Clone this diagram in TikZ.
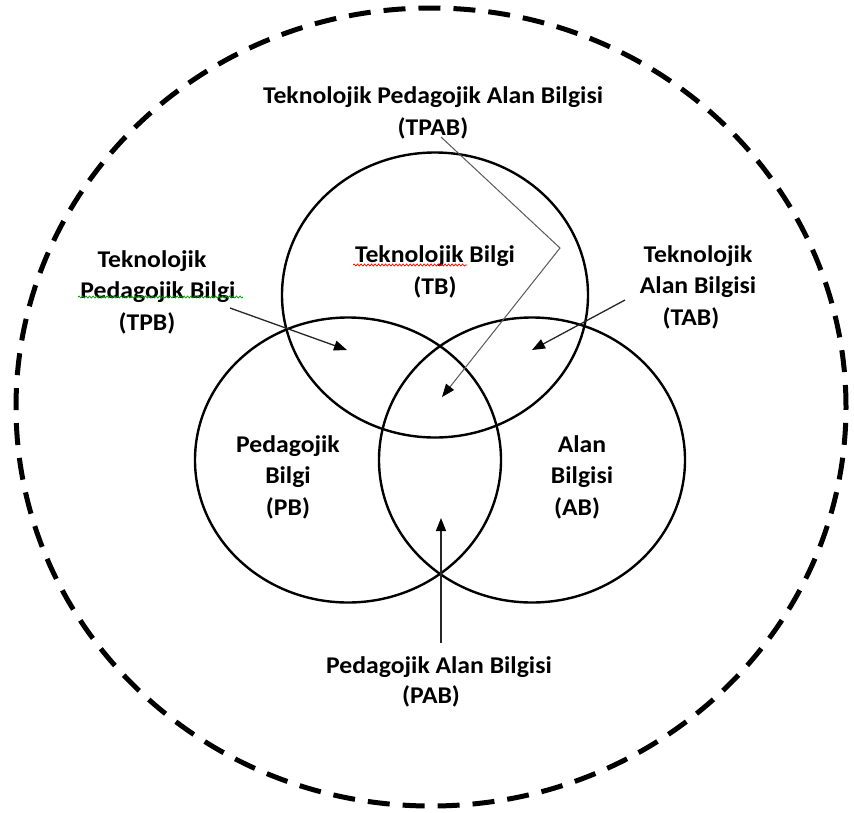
\documentclass[tikz,border=0pt]{standalone}
\usepackage{fontspec}
\setmainfont{Carlito}[FakeStretch=1.07]
\usetikzlibrary{arrows.meta,decorations.pathmorphing,shapes.geometric}
\begin{document}
\begin{tikzpicture}[x=1pt,y=-1pt,
  lbl/.style={font=\fontsize{24}{31.5}\selectfont\bfseries, align=center, inner sep=0pt, text=black},
  ring/.style={draw=black, line width=2.4pt, ellipse, minimum width=306pt, minimum height=285pt, inner sep=0pt},
  outerring/.style={draw=black, line width=5pt, dash pattern=on 22pt off 13pt, ellipse, minimum width=830pt, minimum height=798pt, inner sep=0pt},
  ptr/.style={line width=1.3pt, draw=black!85, -{Triangle[length=13pt,width=10pt,color=black]}},
  spell/.style={decorate, decoration={snake, amplitude=1pt, segment length=3.5pt}, line width=0.7pt}]
\useasboundingbox (0,0) rectangle (854,812);
\fill[white] (0,0) rectangle (854,812);
\node[outerring] (outer) at (431,407) {};
\node[ring] (tb) at (435,295) {};
\node[ring] (pb) at (348,460) {};
\node[ring] (ab) at (532,460) {};

\node[lbl] (tpab) at (433,113) {Teknolojik Pedagojik Alan Bilgisi\\(TPAB)};
\node[lbl] (tbl) at (435,272) {Teknolojik Bilgi\\(TB)};
\node[lbl] (tpb) at (158,292) {Teknolojik\rule{12pt}{0pt}\\Pedagojik\hspace{6pt}Bilgi\\(TPB)\rule{22pt}{0pt}};
\node[lbl] (tab) at (698,287) {Teknolojik\\Alan Bilgisi\\(TAB)\rule{14pt}{0pt}};
\node[lbl] (pbl) at (288,477) {Pedagojik\\Bilgi\\(PB)};
\node[lbl] (abl) at (582,477) {Alan\\Bilgisi\\(AB)\rule{10pt}{0pt}};
\node[lbl, font=\fontsize{24}{30}\selectfont\bfseries] (pab) at (439,682) {Pedagojik Alan Bilgisi\\(PAB)\rule{16pt}{0pt}};

\draw[spell, red] (353,265) -- (467,265);
\draw[spell, green!60!black] (78,297) -- (243,297);

\coordinate (tpabS) at (441,137);
\coordinate (tpabK) at (560,248);
\coordinate (tpabT) at (442,397);
\coordinate (tpbS) at (230,308);
\coordinate (tpbT) at (347,350);
\coordinate (tabS) at (625,300);
\coordinate (tabT) at (532,350);
\coordinate (pabS) at (441,643);
\coordinate (pabT) at (441,518);

\draw[ptr, draw=black!65, line width=1pt] (tpabS) -- (tpabK) -- (tpabT);
\draw[ptr] (tpbS) -- (tpbT);
\draw[ptr] (tabS) -- (tabT);
\draw[ptr] (pabS) -- (pabT);
\end{tikzpicture}
\end{document}
